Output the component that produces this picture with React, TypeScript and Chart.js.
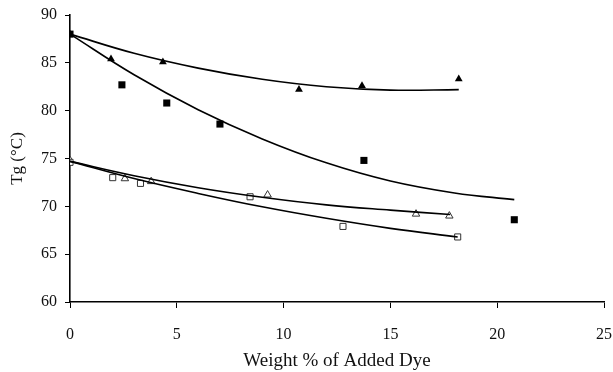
import React, { useEffect, useRef } from "react";
import { Chart, registerables } from "chart.js";

Chart.register(...registerables);

// Measured points
const filledSquareX = [0, 2.43, 4.53, 7.02, 13.76, 20.8];
const filledSquareY = [88, 82.7, 80.8, 78.6, 74.8, 68.6];
const filledTriX = [0, 1.92, 4.35, 10.72, 13.67, 18.2];
const filledTriY = [88, 85.4, 85.1, 82.2, 82.6, 83.3];
const openSquareX = [0, 2.0, 3.3, 8.43, 12.78, 18.15];
const openSquareY = [74.6, 73.0, 72.4, 71.0, 67.9, 66.8];
const openTriX = [0, 2.57, 3.8, 9.25, 16.2, 17.76];
const openTriY = [74.8, 72.9, 72.6, 71.2, 69.2, 69.0];

// Trend curves
const fitFilledTriX = [0, 3, 6, 9, 12, 15, 18.2];
const fitFilledTriY = [88, 86.0, 84.45, 83.28, 82.5, 82.15, 82.2];
const fitFilledSqX = [0, 3, 6, 9, 12, 15, 18, 20.8];
const fitFilledSqY = [88, 83.75, 80.1, 77.05, 74.55, 72.65, 71.4, 70.7];
const fitOpenTriX = [0, 3, 6, 9, 12, 15, 17.8];
const fitOpenTriY = [74.7, 73.2, 71.95, 70.95, 70.15, 69.6, 69.15];
const fitOpenSqX = [0, 3, 6, 9, 12, 15, 18.15];
const fitOpenSqY = [74.7, 72.9, 71.35, 69.95, 68.75, 67.7, 66.8];

const xTicks = [0, 5, 10, 15, 20, 25];
const yTicks = [60, 65, 70, 75, 80, 85, 90];

const zip = (xs: number[], ys: number[]) => xs.map((x, i) => ({ x, y: ys[i] }));

const FONT = "'Liberation Serif', 'Times New Roman', serif";

export default function App() {
  const ref = useRef<HTMLCanvasElement | null>(null);
  useEffect(() => {
    if (!ref.current) return;
    const fit = (xs: number[], ys: number[]) => ({
      data: zip(xs, ys),
      showLine: true,
      tension: 0.4,
      borderColor: "#000",
      borderWidth: 1.6,
      pointRadius: 0,
      fill: false,
    });
    const chart = new Chart(ref.current, {
      type: "scatter",
      data: {
        datasets: [
          fit(fitFilledTriX, fitFilledTriY),
          fit(fitFilledSqX, fitFilledSqY),
          fit(fitOpenTriX, fitOpenTriY),
          fit(fitOpenSqX, fitOpenSqY),
          {
            data: zip(filledSquareX, filledSquareY),
            pointStyle: "rect",
            pointRadius: 5,
            backgroundColor: "#000",
            borderColor: "#000",
            borderWidth: 0,
          },
          {
            data: zip(filledTriX, filledTriY),
            pointStyle: "triangle",
            pointRadius: 4.5,
            backgroundColor: "#000",
            borderColor: "#000",
            borderWidth: 0,
          },
          {
            data: zip(openSquareX, openSquareY),
            pointStyle: "rect",
            pointRadius: 4.3,
            backgroundColor: "#fff",
            borderColor: "#333",
            borderWidth: 1,
          },
          {
            data: zip(openTriX, openTriY),
            pointStyle: "triangle",
            pointRadius: 4.3,
            backgroundColor: "#fff",
            borderColor: "#333",
            borderWidth: 1,
          },
        ],
      },
      options: {
        animation: false,
        responsive: false,
        layout: { padding: { top: 15, right: 9, left: 0, bottom: 0 } },
        plugins: { legend: { display: false }, tooltip: { enabled: false } },
        scales: {
          x: {
            type: "linear",
            min: 0,
            max: 25,
            afterFit: (s: any) => {
              s.height = 70;
              s.paddingLeft = 0;
              s.paddingRight = 9;
            },
            afterBuildTicks: (s: any) => {
              s.ticks = xTicks.map((v) => ({ value: v }));
            },
            grid: {
              display: true,
              drawOnChartArea: false,
              drawTicks: true,
              tickLength: 6,
              color: "#000",
            },
            border: { display: true, color: "#000", width: 1.6 },
            ticks: {
              color: "#111",
              padding: 17,
              font: { family: FONT, size: 16 },
            },
            title: {
              display: true,
              text: "Weight % of Added Dye",
              color: "#111",
              font: { family: FONT, size: 19 },
              padding: { top: 0, bottom: 0 },
            },
          },
          y: {
            type: "linear",
            min: 60,
            max: 90,
            afterFit: (s: any) => {
              s.width = 70;
              s.paddingTop = 0;
              s.paddingBottom = 0;
            },
            afterBuildTicks: (s: any) => {
              s.ticks = yTicks.map((v) => ({ value: v }));
            },
            grid: {
              display: true,
              drawOnChartArea: false,
              drawTicks: true,
              tickLength: 5,
              color: "#000",
            },
            border: { display: true, color: "#000", width: 1.6 },
            ticks: {
              color: "#111",
              padding: 8,
              font: { family: FONT, size: 16 },
            },
            title: {
              display: true,
              text: "Tg (°C)",
              color: "#111",
              font: { family: FONT, size: 17 },
              padding: { top: 7, bottom: 0 },
            },
          },
        },
      },
    });
    return () => chart.destroy();
  }, []);
  return (
    <div style={{ position: "absolute", left: 0, top: 0, width: 613, height: 372, background: "#fff" }}>
      <canvas ref={ref} width={613} height={372} />
    </div>
  );
}
